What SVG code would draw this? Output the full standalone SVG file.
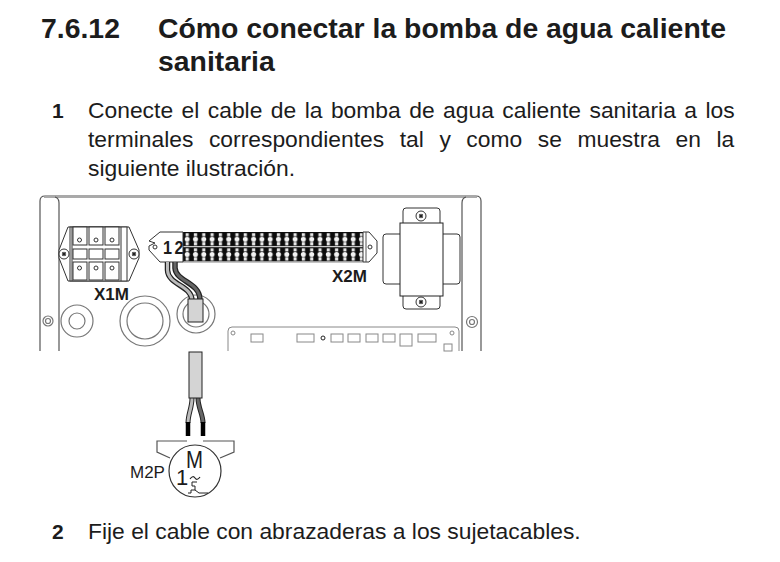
<svg xmlns="http://www.w3.org/2000/svg" width="780" height="562" viewBox="0 0 780 562">
<defs>
<style>
.t{font-family:"Liberation Sans",Arial,sans-serif;fill:#1c1c1c}
.h{font-size:28.4px;font-weight:700}
.b{font-size:22.85px}
.n{font-size:21px;font-weight:700}
.l{font-size:17px;font-weight:700}
.s{fill:#fff;stroke:#333;stroke-width:1}
.g{fill:none;stroke:#777;stroke-width:1.2}
.p{fill:#fff;stroke:#888;stroke-width:1}
.d{fill:#d4d4d4;stroke:#222;stroke-width:1}
</style>
<pattern id="term" x="183" y="232" width="8.3" height="15.2" patternUnits="userSpaceOnUse">
<rect width="8.3" height="15.2" fill="#0c0c0c"/>
<rect x="2.6" y="1.2" width="3.2" height="3" fill="#e8e8e8"/>
<circle cx="4.2" cy="7.2" r="2.500" fill="#f4f4f4"/>
<rect x="2.6" y="10" width="3.2" height="3.4" fill="#e8e8e8"/>
<rect y="14.2" width="8.3" height="1" fill="#fff"/>
</pattern>
<g id="screw"><circle r="5" fill="#fff" stroke="#333"/><circle r="2.2" fill="#666"/><path d="M-1.5-1.5L1.5 1.5M-1.5 1.5L1.5-1.5" stroke="#111" stroke-width=".8"/></g>
</defs>
<rect width="780" height="562" fill="#fff"/>
<g id="text">
<text class="t h" x="41" y="38">7.6.12</text>
<text class="t h" x="158" y="38">Cómo conectar la bomba de agua caliente</text>
<text class="t h" x="158" y="71">sanitaria</text>
<text class="t n" x="52" y="118">1</text>
<text class="t b" x="88" y="118" word-spacing="2.1">Conecte el cable de la bomba de agua caliente sanitaria a los</text>
<text class="t b" x="88" y="147" word-spacing="9.2">terminales correspondientes tal y como se muestra en la</text>
<text class="t b" x="88" y="176">siguiente ilustración.</text>
<text class="t n" x="52" y="539">2</text>
<text class="t b" x="88" y="539">Fije el cable con abrazaderas a los sujetacables.</text>
</g>
<g id="panel" fill="none" stroke="#555" stroke-width="1.2">
<path d="M40 351V201q0-5 5-5H476q5 0 5 5V351"/>
<path d="M44 197.500H477" stroke="#aaa" stroke-width="1"/>
<path d="M59 351V203q0-5-4-6M462 351V203q0-5 4-6"/>
</g>
<g id="X1M">
<path class="s" d="M68 227H129L139 250V258L129 281H68L59 258V250Z"/>
<rect class="s" x="70" y="227" width="57" height="54"/>
<path d="M72 227V281M121 227V281" stroke="#333" fill="none"/>
<g fill="#fff" stroke="#333">
<rect x="73" y="227" width="14" height="18"/><rect x="89" y="227" width="14" height="18"/><rect x="105" y="227" width="14" height="18"/>
<rect x="73" y="249" width="14" height="10"/><rect x="89" y="249" width="14" height="10"/><rect x="105" y="249" width="14" height="10"/>
<rect x="73" y="262" width="14" height="18"/><rect x="89" y="262" width="14" height="18"/><rect x="105" y="262" width="14" height="18"/>
</g>
<g class="s" stroke="#555">
<circle cx="79.500" cy="240" r="2"/><circle cx="96" cy="240" r="2"/><circle cx="112" cy="240" r="2"/>
<circle cx="79.500" cy="268" r="2"/><circle cx="96" cy="268" r="2"/><circle cx="112" cy="268" r="2"/>
</g>
<use href="#screw" x="64" y="254"/><use href="#screw" x="134" y="254"/>
<text class="t l" x="94" y="300">X1M</text>
</g>
<g id="grommets">
<circle class="g" cx="77" cy="321" r="16"/><circle class="g" cx="77" cy="321" r="8"/>
<circle class="g" cx="145" cy="321" r="25"/><circle class="g" cx="145" cy="321" r="18"/>
<circle class="g" cx="196" cy="314" r="19"/><circle class="g" cx="196" cy="314" r="13"/>
<circle class="g" cx="48" cy="321" r="5"/><circle class="g" cx="48" cy="321" r="2.500"/>
<circle class="g" cx="472" cy="322" r="5.500"/><circle class="g" cx="472" cy="322" r="2.500"/>
</g>
<g id="X2M">
<rect x="183" y="232" width="180" height="30.400" fill="url(#term)"/>
<path class="s" d="M160 232H183V262H160L149 250V246L155 243L149 241Z"/>
<circle class="s" cx="155" cy="247" r="2"/>
<text class="t" transform="translate(163 254) scale(.9 1)" font-size="18" font-weight="700">1</text>
<text class="t" transform="translate(174.500 254) scale(.9 1)" font-size="18" font-weight="700">2</text>
<path class="s" d="M363 232H369L377 241V253L369 262H363Z"/><circle class="s" cx="370" cy="247" r="2"/>
<path d="M366 232V262" stroke="#555" fill="none"/>
<text class="t l" x="332" y="282">X2M</text>
</g>
<g id="transformer">
<rect class="s" x="383" y="234" width="77" height="50" rx="3" stroke="#666"/>
<rect class="s" x="403" y="208" width="37" height="101" rx="3"/>
<rect x="400" y="223" width="43" height="73" fill="#fff" stroke="#222"/>
<use href="#screw" x="421" y="216"/><use href="#screw" x="421" y="302"/>
</g>
<g id="pcb">
<path class="p" d="M228 351V331q0-4 4-4H455q4 0 4 4V351" stroke="#777"/>
<circle class="p" cx="233" cy="333" r="2"/><circle cx="323" cy="338" r="2" fill="#fff" stroke="#222"/><circle class="p" cx="452" cy="333" r="2"/>
<rect class="p" x="251" y="334" width="12" height="8"/>
<rect class="p" x="297" y="334" width="17" height="8"/>
<rect class="p" x="331" y="334" width="12" height="8"/><rect class="p" x="348" y="334" width="12" height="8"/><rect class="p" x="366" y="334" width="12" height="8"/><rect class="p" x="383" y="334" width="12" height="8"/>
<rect class="p" x="400" y="334" width="12" height="12"/><rect class="p" x="418" y="334" width="18" height="8"/>
<rect class="p" x="444" y="344" width="8" height="7"/>
</g>
<g id="connectors" fill="none" stroke-linecap="butt">
<path d="M167.500 262V270C168 285 191 285 192 300" stroke="#222" stroke-width="5.500"/>
<path d="M167.500 262V270C168 285 191 285 192 300" stroke="#bbb" stroke-width="3"/>
<path d="M175 262V268C176 282 200 282 200 300" stroke="#222" stroke-width="5.500"/>
<path d="M175 262V268C176 282 200 282 200 300" stroke="#666" stroke-width="3"/>
<path d="M192 398C192 408 188 414 188 423" stroke="#222" stroke-width="5"/>
<path d="M192 398C192 408 188 414 188 423" stroke="#bbb" stroke-width="3"/>
<path d="M198 398C198 408 203 414 203 423" stroke="#222" stroke-width="5"/>
<path d="M198 398C198 408 203 414 203 423" stroke="#666" stroke-width="3"/>
<path d="M188 422V436M203 422V436" stroke="#000" stroke-width="4.500"/>
</g>
<g id="gland"><rect class="d" x="188" y="299" width="15" height="23"/></g>
<g id="cable"><rect class="d" x="189" y="352" width="13" height="46"/></g>
<g id="M2P">
<path d="M187 441H157V452L170 458M203 441H234V452L220 458" fill="none" stroke="#555" stroke-width="1.200"/>
<circle cx="195" cy="471" r="26" fill="#fff" stroke="#333" stroke-width="1.200"/>
<text class="t" transform="translate(186 468) scale(.85 1)" font-size="24">M</text>
<text class="t" x="176" y="484.500" font-size="22">1</text>
<path d="M190 479Q193 475 195 478T200 477" fill="none" stroke="#222" stroke-width="1.200"/>
<path d="M192 482H197M192 482V486H195V490H191V493H188M195 490L199 493H208" fill="none" stroke="#222" stroke-width="1"/>
<text class="t" x="130" y="478" font-size="17">M2P</text>
</g>
</svg>
